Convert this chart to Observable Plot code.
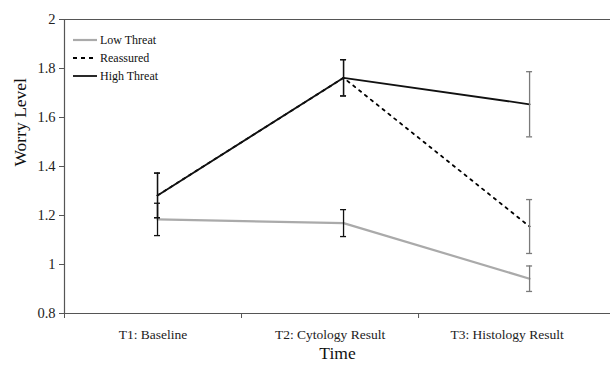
<!DOCTYPE html>
<html>
<head>
<meta charset="utf-8">
<script src="https://cdn.jsdelivr.net/npm/d3@7"></script>
<script src="https://cdn.jsdelivr.net/npm/@observablehq/plot@0.6"></script>
<style>
  html, body { margin: 0; padding: 0; background: #fff; }
  #wrap { position: relative; width: 610px; height: 365px; font-family: "Liberation Serif", serif; }
  #legend { position: absolute; left: 73px; top: 31px; font-family: "Liberation Serif", serif; font-size: 12px; color: #111; line-height: 18px; }
  #legend .item { display: flex; align-items: center; height: 18px; }
  #legend span { font-family: "Liberation Serif", serif; }
  #legend svg { margin-right: 2px; }
</style>
</head>
<body>
<div id="wrap"><div id="legend"></div></div>
<script>
// ---- data ----
const times = ["T1: Baseline", "T2: Cytology Result", "T3: Histology Result"];
const seriesNames = ["Low Threat", "Reassured", "High Threat"];
const lowThreat = [1.184, 1.169, 0.942];
const lowThreatErr = [0.066, 0.055, 0.052];
const reassured = [1.282, 1.762, 1.155];
const reassuredErr = [0.091, 0.074, 0.110];
const highThreat = [1.282, 1.762, 1.654];
const highThreatErr = [0.091, 0.074, 0.133];
const yTicks = [0.8, 1, 1.2, 1.4, 1.6, 1.8, 2];

// ---- styles / layout ----
const styles = {
  "Low Threat": {stroke: "#aaaaaa", width: 2.2, dash: null},
  "Reassured": {stroke: "#000", width: 1.8, dash: "2.5,5"},
  "High Threat": {stroke: "#111", width: 1.8, dash: null}
};
const axisColor = "#555";
const serif = "'Liberation Serif', serif";
const xDomain = [-0.5, 2.435];
const bandStart = -0.5, bandW = 0.9516;   // category axis bands
const capHalf = 3 / 186;                  // error bar cap half-width in x units

function build(name, vals, errs) {
  return vals.map((v, i) => ({series: name, t: i, v, lo: v - errs[i], hi: v + errs[i]}));
}
const low = build("Low Threat", lowThreat, lowThreatErr);
const rea = build("Reassured", reassured, reassuredErr);
const high = build("High Threat", highThreat, highThreatErr);
const allPts = [...low, ...rea, ...high];
const errColor = d => d.t === 2 ? "#7a7a7a" : "#111";

const plot = Plot.plot({
  width: 610,
  height: 365,
  marginLeft: 64,
  marginRight: 0,
  marginTop: 19,
  marginBottom: 52,
  style: {fontFamily: serif, background: "transparent", overflow: "visible"},
  x: {type: "linear", domain: xDomain, axis: null, label: null},
  y: {domain: [0.8, 2], axis: null, label: null},
  marks: [
    // frame lines
    Plot.ruleY([0.8, 2], {stroke: axisColor, strokeWidth: 1.2}),
    Plot.ruleX([xDomain[0]], {stroke: axisColor, strokeWidth: 1.2}),
    // y axis
    Plot.axisY(yTicks, {
      anchor: "left", tickSize: 5, tickPadding: 4, stroke: axisColor,
      fontSize: 14.5, fill: "#222", label: null, fontFamily: serif,
      tickFormat: d => String(+d.toFixed(1))
    }),
    // x axis ticks at category band boundaries
    Plot.axisX([0, 1, 2].map(i => bandStart + i * bandW), {
      anchor: "bottom", tickSize: 5, stroke: axisColor, tickFormat: () => "", label: null
    }),
    Plot.text(times, {
      x: (d, i) => bandStart + (i + 0.5) * bandW,
      frameAnchor: "bottom", dy: 25, fontSize: 13.5, fill: "#222", text: d => d, fontFamily: serif
    }),
    Plot.text(["Time"], {frameAnchor: "bottom", dy: 45, fontSize: 17.5, fill: "#111", text: d => d, fontFamily: serif}),
    Plot.text(["Worry Level"], {frameAnchor: "left", dx: -44, rotate: -90, fontSize: 17.5, fill: "#111", text: d => d, fontFamily: serif}),
    // series lines
    Plot.line(low, {x: "t", y: "v", stroke: styles["Low Threat"].stroke, strokeWidth: styles["Low Threat"].width}),
    Plot.line(rea, {x: "t", y: "v", stroke: styles["Reassured"].stroke, strokeWidth: styles["Reassured"].width, strokeDasharray: styles["Reassured"].dash}),
    Plot.line(high, {x: "t", y: "v", stroke: styles["High Threat"].stroke, strokeWidth: styles["High Threat"].width}),
    // error bars
    Plot.ruleX(allPts, {x: "t", y1: "lo", y2: "hi", stroke: errColor, strokeWidth: 1.3}),
    Plot.ruleY(allPts, {y: "lo", x1: d => d.t - capHalf, x2: d => d.t + capHalf, stroke: errColor, strokeWidth: 1.3}),
    Plot.ruleY(allPts, {y: "hi", x1: d => d.t - capHalf, x2: d => d.t + capHalf, stroke: errColor, strokeWidth: 1.3})
  ]
});
document.getElementById("wrap").prepend(plot);

// legend (inside plot area, top-left)
const legend = document.getElementById("legend");
for (const name of seriesNames) {
  const s = styles[name];
  const item = document.createElement("div");
  item.className = "item";
  item.innerHTML = `<svg width="25" height="6"><line x1="0" y1="3" x2="24" y2="3" stroke="${s.stroke}" stroke-width="${s.width}" ${s.dash ? `stroke-dasharray="4,4"` : ""}/></svg><span>${name}</span>`;
  legend.appendChild(item);
}
</script>
</body>
</html>
